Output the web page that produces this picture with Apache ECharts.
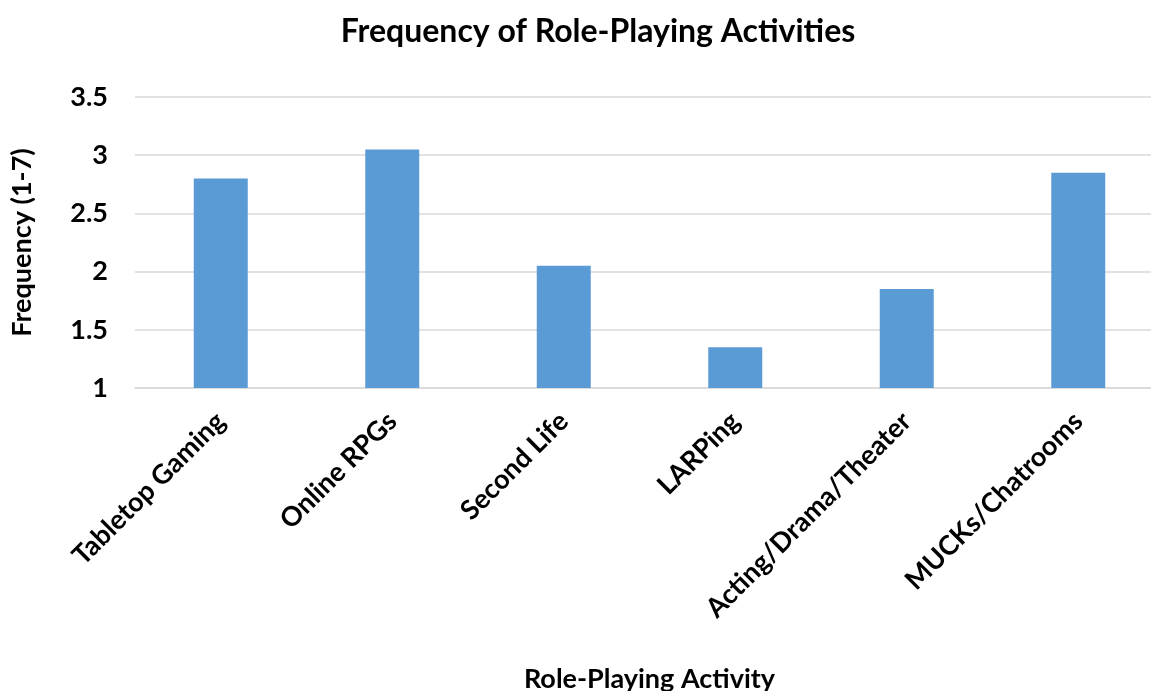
<!DOCTYPE html>
<html>
<head>
<meta charset="utf-8">
<script src="https://cdn.jsdelivr.net/npm/echarts@6/dist/echarts.min.js"></script>
<style>
html,body{margin:0;padding:0;background:#fff;}
#chart{width:1151px;height:691px;}
</style>
</head>
<body>
<div id="chart"></div>
<script>
const categories = ["Tabletop Gaming", "Online RPGs", "Second Life", "LARPing", "Acting/Drama/Theater", "MUCKs/Chatrooms"];
const frequencyValues = [2.8, 3.05, 2.05, 1.35, 1.85, 2.85];
const yTicks = { min: 1, max: 3.5, interval: 0.5 };

const FONT = "Lato";
const chart = echarts.init(document.getElementById("chart"), null, { renderer: "canvas" });
chart.setOption({
  backgroundColor: "#ffffff",
  animation: false,
  textStyle: { fontFamily: FONT },
  title: {
    text: "Frequency of Role-Playing Activities",
    left: 593, textAlign: "center", top: 11,
    textStyle: { fontFamily: FONT, fontWeight: "bold", fontSize: 32, color: "#000" }
  },
  grid: { left: 135, top: 97, height: 291, width: 1029, containLabel: false, outerBoundsMode: "none" },
  xAxis: {
    type: "category",
    data: categories,
    name: "Role-Playing Activity",
    nameLocation: "middle",
    nameGap: 278,
    nameTextStyle: { fontFamily: FONT, fontWeight: "bold", fontSize: 27, color: "#000", align: "center" },
    axisLine: { show: true, lineStyle: { color: "#d9d9d9", width: 1.5 } },
    axisTick: { show: false },
    axisLabel: { rotate: 45, margin: 29, interval: 0, fontFamily: FONT, fontWeight: "bold", fontSize: 27, color: "#000" }
  },
  yAxis: {
    type: "value",
    min: yTicks.min, max: yTicks.max, interval: yTicks.interval,
    name: "Frequency (1-7)",
    nameLocation: "middle",
    nameGap: 99,
    nameTextStyle: { fontFamily: FONT, fontWeight: "bold", fontSize: 27, color: "#000" },
    axisLine: { show: false },
    axisTick: { show: false },
    axisLabel: { margin: 27, fontFamily: FONT, fontWeight: "bold", fontSize: 27, color: "#000" },
    splitLine: { lineStyle: { color: "#d9d9d9", width: 1.5 } }
  },
  series: [{
    type: "bar",
    data: frequencyValues,
    barWidth: 54,
    itemStyle: { color: "#5b9bd5" }
  }]
});
</script>
</body>
</html>
